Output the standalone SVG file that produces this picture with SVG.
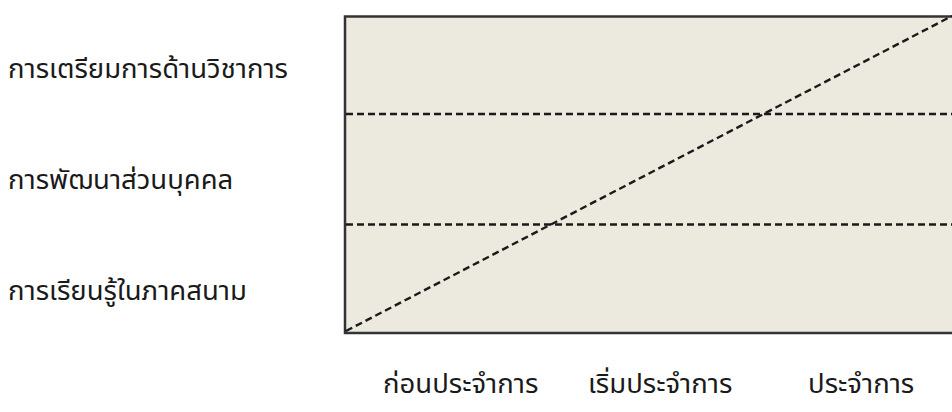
<svg xmlns="http://www.w3.org/2000/svg" width="952" height="412" viewBox="0 0 952 412">
<style>
.lbl{font-family:"Noto Sans Thai","Noto Sans","DejaVu Sans",sans-serif;font-size:27.5px;fill:#1a1a1a}
.dash{stroke:#1a1a1a;stroke-width:2.4;stroke-dasharray:7 4;fill:none}
</style>
<rect width="952" height="412" fill="#ffffff"/>
<g id="chart">
<rect x="345" y="16.5" width="620" height="316.5" fill="#ece9df" stroke="#333333" stroke-width="2.5"/>
</g>
<g id="connectors">
<line class="dash" x1="346" y1="114" x2="952" y2="114"/>
<line class="dash" x1="346" y1="224.5" x2="952" y2="224.5"/>
<line class="dash" x1="346" y1="331" x2="952" y2="16"/>
</g>
<g id="row-labels">
<text class="lbl" x="8" y="78">การเตรียมการด้านวิชาการ</text>
<text class="lbl" x="8" y="189">การพัฒนาส่วนบุคคล</text>
<text class="lbl" x="8" y="300">การเรียนรู้ในภาคสนาม</text>
</g>
<g id="col-labels">
<text class="lbl" x="383" y="393">ก่อนประจำการ</text>
<text class="lbl" x="588" y="393">เริ่มประจำการ</text>
<text class="lbl" x="808" y="393">ประจำการ</text>
</g>
</svg>
